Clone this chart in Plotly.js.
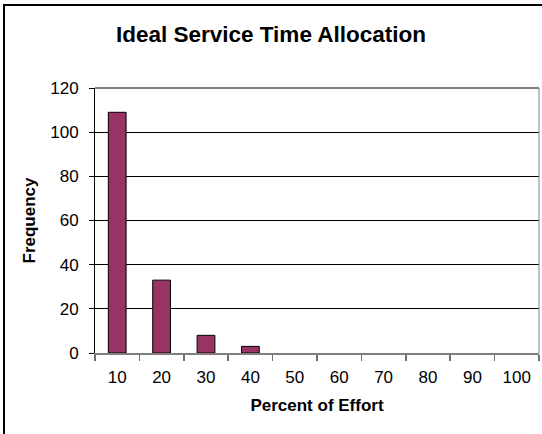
<!DOCTYPE html>
<html>
<head>
<meta charset="utf-8">
<script src="https://cdn.plot.ly/plotly-3.0.1.min.js"></script>
<style>
  html, body { margin: 0; padding: 0; background: #fff; }
  #chart { width: 542px; height: 434px; }
</style>
</head>
<body>
<div id="chart"></div>
<script>
// Histogram of ideal service time, by percent of effort
const effortLabels = ['10', '20', '30', '40', '50', '60', '70', '80', '90', '100'];
const frequency = [109, 33, 8, 3, 0, 0, 0, 0, 0, 0];

const barColor = '#993366';
const font = "'Liberation Sans', Arial, sans-serif";

const trace = {
  type: 'bar',
  x: effortLabels,
  // empty classes get no bar outline
  y: frequency.map(v => (v === 0 ? null : v)),
  marker: { color: barColor, line: { color: '#000', width: 1 } },
  hoverinfo: 'x+y'
};

const layout = {
  width: 542,
  height: 434,
  margin: { l: 95, r: 3, t: 88, b: 81 },
  paper_bgcolor: '#fff',
  plot_bgcolor: '#fff',
  bargap: 0.6,
  showlegend: false,
  font: { family: font, color: '#000' },
  title: {
    text: '<b>Ideal Service Time Allocation</b>',
    font: { family: font, size: 22.5, color: '#000' },
    x: 0.5, xref: 'container', xanchor: 'center',
    y: 1 - 34 / 434, yref: 'container', yanchor: 'middle'
  },
  xaxis: {
    type: 'category',
    tickson: 'boundaries',
    ticks: 'outside',
    ticklen: 6,
    tickcolor: '#707070',
    tickwidth: 1.5,
    showline: true,
    linecolor: '#808080',
    linewidth: 2,
    showgrid: false,
    zeroline: false,
    tickfont: { family: font, size: 17, color: '#000' },
    ticklabelstandoff: 8,
    title: { text: '<b>Percent of Effort</b>', font: { family: font, size: 17, color: '#000' }, standoff: 13 }
  },
  yaxis: {
    range: [0, 120],
    dtick: 20,
    ticks: 'outside',
    ticklen: 5,
    tickcolor: '#000',
    showline: true,
    linecolor: '#000',
    linewidth: 1,
    showgrid: true,
    gridcolor: '#000',
    gridwidth: 1,
    zeroline: false,
    tickfont: { family: font, size: 17, color: '#000' },
    ticklabelstandoff: 7,
    title: { text: '<b>Frequency</b>', font: { family: font, size: 17, color: '#000' }, standoff: 10 }
  },
  shapes: [
    // plot-area frame: top and right edges in grey
    { type: 'line', xref: 'paper', yref: 'paper', x0: 0, x1: 1, y0: 1, y1: 1,
      line: { color: '#808080', width: 2 }, layer: 'above' },
    { type: 'line', xref: 'paper', yref: 'paper', x0: 1, x1: 1, y0: 0, y1: 1,
      line: { color: '#808080', width: 1 }, layer: 'above' },
    // chart frame around the whole figure
    { type: 'rect', xref: 'paper', yref: 'paper',
      x0: (4 - 95) / 444, x1: 1.2, y0: -0.6, y1: (353 - 5) / 265,
      line: { color: '#000', width: 2 }, fillcolor: 'rgba(0,0,0,0)', layer: 'above' }
  ]
};

Plotly.newPlot('chart', [trace], layout, { staticPlot: true, displayModeBar: false });
</script>
</body>
</html>
